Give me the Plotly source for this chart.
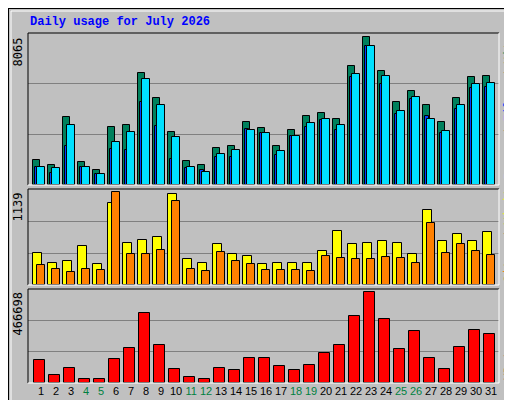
import plotly.graph_objects as go

# ---- DATA ----
days = list(range(1, 32))
weekend = [4, 5, 11, 12, 18, 19, 25, 26]

hits = [1387, 1113, 3741, 1259, 839, 3193, 3285, 6095, 4726, 2920, 1332, 1113, 2044, 2153, 3467, 3139,
        2153, 3029, 3796, 3960, 3631, 6478, 8065, 6204, 4507, 5109, 4397, 3467, 4726, 5876, 5930]
files = [1004, 949, 3303, 1004, 620, 2372, 2920, 5767, 4343, 2646, 1004, 730, 1715, 1934, 3029, 2865,
         1880, 2701, 3412, 3631, 3303, 6040, 7573, 5931, 4015, 4781, 3631, 2974, 4343, 5493, 5548]
pages = [1004, 675, 2153, 1004, 620, 1989, 1934, 4507, 3248, 1441, 949, 839, 1551, 1551, 3084, 2865,
         1660, 2701, 3193, 3577, 3029, 5876, 7573, 5493, 3905, 4672, 3796, 2865, 4124, 5274, 5329]
visits = [399, 276, 300, 485, 263, 1003, 522, 559, 584, 1114, 325, 276, 498, 387, 362, 263,
          276, 276, 276, 424, 658, 498, 522, 547, 522, 387, 917, 535, 633, 535, 646]
sites = [251, 201, 164, 201, 189, 1139, 387, 387, 436, 1028, 201, 177, 411, 300, 263, 189,
         189, 189, 177, 362, 337, 325, 325, 350, 337, 276, 757, 399, 510, 424, 374]
kbytes = [117956, 41028, 76928, 20514, 20514, 123084, 179498, 358995, 194883, 71799, 30771, 20514,
          76928, 66671, 128213, 128213, 87185, 66671, 92313, 153855, 194883, 343610, 466698, 328224,
          174369, 266682, 128213, 71799, 184626, 271811, 251296]

MONO = "DejaVu Sans Mono"
GREY = "#C0C0C0"
W, H = 512, 400
L, R, T, B = 20, 21, 25, 25
PW, PH = W - L - R, H - T - B

def dom(top_px, bot_px):
    return [(H - B - bot_px) / PH, (H - B - top_px) / PH]

fig = go.Figure()

def bar(vals, color, off, width, ax):
    fig.add_trace(go.Bar(x=days, y=vals, offset=off, width=width, marker_color=color,
                         marker_line=dict(color="black", width=1), xaxis="x", yaxis=ax,
                         showlegend=False, hoverinfo="skip"))

bar(hits, "#00805C", -0.39, 0.49, "y")
bar(pages, "#0040FF", -0.26, 0.3, "y")
bar(files, "#00E0FF", -0.12, 0.51, "y")
bar(visits, "#FFFF00", -0.39, 0.6, "y2")
bar(sites, "#FF8000", -0.12, 0.51, "y2")
bar(kbytes, "#FF0000", -0.32, 0.71, "y3")

ticktext = [f"<span style='color:#008040'>{d}</span>" if d in weekend else str(d) for d in days]

def yax(domain, top):
    return dict(domain=domain, range=[0, top], tickvals=[top / 3, 2 * top / 3], showticklabels=False,
                ticks="", showgrid=True, gridcolor="#808080", gridwidth=1, zeroline=False,
                fixedrange=True, automargin=False)

fig.update_layout(
    width=W, height=H, margin=dict(l=L, r=R, t=T, b=B, autoexpand=False),
    paper_bgcolor=GREY, plot_bgcolor=GREY, barmode="overlay", bargap=0,
    font=dict(family=MONO, size=11, color="black"),
    xaxis=dict(range=[0.277, 31.677], tickvals=[d + 0.15 for d in days], ticktext=ticktext,
               ticks="", showgrid=False, zeroline=False, anchor="y3", tickangle=0, automargin=False,
               tickfont=dict(size=11, family="Liberation Sans")),
    yaxis=yax(dom(25, 177), 8302),
    yaxis2=yax(dom(181, 277), 1180),
    yaxis3=yax(dom(281, 375), 483800),
)

shapes = [
    dict(type="rect", xref="paper", yref="paper", x0=-L / PW, x1=1 + R / PW, y0=-B / PH, y1=1 + T / PH,
         line=dict(color="black", width=2), layer="below"),
    dict(type="rect", xref="paper", yref="paper", x0=-(L - 3) / PW, x1=1 + (R - 3) / PW,
         y0=-(B - 3) / PH, y1=1 + (T - 3) / PH, line=dict(color="white", width=1), layer="below"),
]
for ax in ["y", "y2", "y3"]:
    yr = ax + " domain"
    shapes += [
        dict(type="line", xref="paper", yref=yr, x0=0, x1=1, y0=1, y1=1, line=dict(color="black", width=1)),
        dict(type="line", xref="paper", yref=yr, x0=0, x1=0, y0=0, y1=1, line=dict(color="black", width=1)),
        dict(type="line", xref="paper", yref=yr, x0=0, x1=1, y0=0, y1=0, line=dict(color="white", width=1)),
        dict(type="line", xref="paper", yref=yr, x0=1, x1=1, y0=0, y1=1, line=dict(color="white", width=1)),
    ]
fig.update_layout(shapes=shapes)

def ylabel(text, ax):
    fig.add_annotation(text=text, textangle=-90, xref="paper", yref=ax + " domain", x=-10 / PW, y=0.98,
                       xanchor="center", yanchor="top", showarrow=False, font=dict(size=12, family=MONO))

ylabel(f"{max(hits)}", "y")
ylabel(f"{max(sites)}", "y2")
ylabel(f"{max(kbytes)}", "y3")

def legend(text, ax, y, anchor):
    fig.add_annotation(text=text, textangle=-90, xref="paper", yref=ax + " domain", x=1 + 9 / PW, y=y,
                       xanchor="center", yanchor=anchor, showarrow=False, font=dict(size=12, family=MONO))

legend("<span style='color:#00C0E0'>Pages</span> / <span style='color:#0040FF'>Files</span> / "
       "<span style='color:#008040'>Hits</span>", "y", 1.0, "top")
legend("<span style='color:#FF8000'>Sites</span> / <span style='color:#FFFF00'>Visits</span>", "y2", 0.0, "bottom")
legend("<span style='color:#FF0000'>KBytes</span>", "y3", 0.0, "bottom")

fig.add_annotation(text="<b>Daily usage for July 2026</b>", xref="paper", yref="paper", x=0, y=1 + 2 / PH,
                   xanchor="left", yanchor="bottom", showarrow=False,
                   font=dict(size=12, family="Liberation Mono", color="#0000FF"))

fig.write_html("out.html")
